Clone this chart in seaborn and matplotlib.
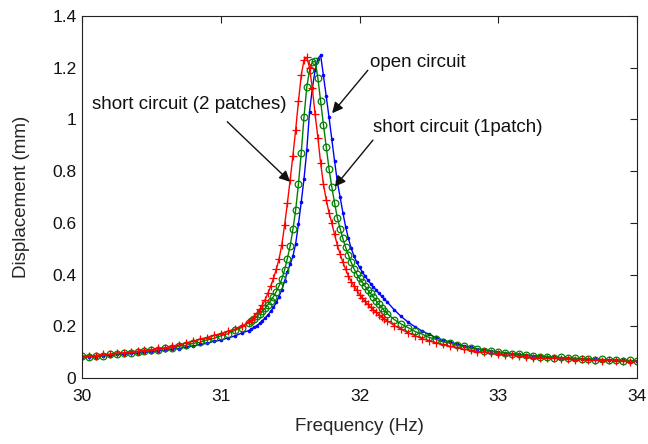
import matplotlib
matplotlib.use("Agg")
import matplotlib.pyplot as plt
import seaborn as sns
import pandas as pd

# ---- data ----
freq = [30.00, 30.05, 30.10, 30.15, 30.20, 30.25, 30.30, 30.35, 30.40, 30.45,
        30.50, 30.55, 30.60, 30.65, 30.70, 30.75, 30.80, 30.85, 30.90, 30.95,
        31.00, 31.05, 31.10, 31.15,
        31.20, 31.22, 31.24, 31.26, 31.28, 31.30, 31.32, 31.34, 31.36, 31.38,
        31.40, 31.42, 31.44, 31.46, 31.48, 31.50, 31.52, 31.54, 31.56, 31.58,
        31.60, 31.62, 31.64, 31.66, 31.68, 31.70, 31.72, 31.74, 31.76, 31.78,
        31.80, 31.82, 31.84, 31.86, 31.88, 31.90, 31.92, 31.94, 31.96, 31.98,
        32.00, 32.02, 32.04, 32.06, 32.08, 32.10, 32.12, 32.14, 32.16, 32.18,
        32.20,
        32.25, 32.30, 32.35, 32.40, 32.45, 32.50, 32.55, 32.60, 32.65, 32.70,
        32.75, 32.80, 32.85, 32.90, 32.95, 33.00, 33.05, 33.10, 33.15, 33.20,
        33.25, 33.30, 33.35, 33.40, 33.45, 33.50, 33.55, 33.60, 33.65, 33.70,
        33.75, 33.80, 33.85, 33.90, 33.95, 34.00]

disp_open = [0.080, 0.082, 0.082, 0.086, 0.086, 0.091, 0.091, 0.095, 0.096, 0.100,
             0.101, 0.106, 0.107, 0.112, 0.114, 0.120, 0.123, 0.130, 0.134, 0.142,
             0.146, 0.155, 0.162, 0.174,
             0.183, 0.190, 0.196, 0.203, 0.211, 0.222, 0.232, 0.244, 0.258, 0.273,
             0.292, 0.315, 0.342, 0.374, 0.410, 0.440, 0.470, 0.520, 0.595, 0.680,
             0.770, 0.880, 1.030, 1.120, 1.190, 1.235, 1.248, 1.170, 1.090, 1.010,
             0.925, 0.840, 0.760, 0.700, 0.640, 0.585, 0.540, 0.502, 0.472, 0.448,
             0.428, 0.410, 0.394, 0.379, 0.365, 0.352, 0.340, 0.328, 0.316, 0.305,
             0.294,
             0.264, 0.238, 0.216, 0.198, 0.182, 0.169, 0.157, 0.147, 0.139, 0.131,
             0.125, 0.119, 0.113, 0.108, 0.104, 0.100, 0.097, 0.094, 0.091, 0.088,
             0.086, 0.084, 0.082, 0.080, 0.078, 0.077, 0.075, 0.074, 0.073, 0.072,
             0.071, 0.070, 0.069, 0.068, 0.067, 0.066]

disp_1patch = [0.086, 0.082, 0.085, 0.086, 0.091, 0.092, 0.096, 0.097, 0.102, 0.103,
               0.108, 0.109, 0.115, 0.117, 0.123, 0.126, 0.134, 0.138, 0.147, 0.153,
               0.163, 0.171, 0.184, 0.195,
               0.214, 0.221, 0.229, 0.238, 0.247, 0.258, 0.270, 0.284, 0.298, 0.315,
               0.334, 0.356, 0.382, 0.418, 0.462, 0.510, 0.575, 0.650, 0.750, 0.870,
               1.010, 1.125, 1.190, 1.222, 1.225, 1.160, 1.070, 0.980, 0.895, 0.810,
               0.740, 0.678, 0.620, 0.578, 0.540, 0.505, 0.476, 0.447, 0.423, 0.402,
               0.385, 0.370, 0.355, 0.340, 0.327, 0.314, 0.298, 0.285, 0.272, 0.260,
               0.249,
               0.226, 0.209, 0.195, 0.180, 0.170, 0.157, 0.150, 0.140, 0.135, 0.126,
               0.122, 0.115, 0.112, 0.106, 0.104, 0.099, 0.098, 0.093, 0.092, 0.088,
               0.087, 0.083, 0.083, 0.079, 0.080, 0.076, 0.077, 0.074, 0.074, 0.071,
               0.072, 0.069, 0.070, 0.067, 0.068, 0.066]

disp_2patch = [0.083, 0.086, 0.087, 0.091, 0.092, 0.097, 0.097, 0.102, 0.103, 0.108,
               0.109, 0.115, 0.117, 0.124, 0.128, 0.136, 0.142, 0.151, 0.156, 0.165,
               0.171, 0.181, 0.188, 0.200,
               0.215, 0.225, 0.237, 0.250, 0.265, 0.283, 0.303, 0.328, 0.355, 0.385,
               0.420, 0.460, 0.515, 0.590, 0.675, 0.765, 0.860, 0.960, 1.070, 1.170,
               1.230, 1.240, 1.200, 1.120, 1.020, 0.930, 0.830, 0.750, 0.690, 0.640,
               0.600, 0.555, 0.515, 0.480, 0.448, 0.420, 0.395, 0.373, 0.356, 0.340,
               0.322, 0.309, 0.296, 0.285, 0.274, 0.264, 0.254, 0.245, 0.236, 0.228,
               0.221,
               0.203, 0.189, 0.174, 0.164, 0.152, 0.145, 0.135, 0.130, 0.122, 0.118,
               0.111, 0.108, 0.102, 0.100, 0.095, 0.094, 0.089, 0.088, 0.084, 0.083,
               0.079, 0.079, 0.076, 0.076, 0.073, 0.074, 0.071, 0.072, 0.069, 0.070,
               0.067, 0.068, 0.065, 0.066, 0.063, 0.064]

x_ticks = [30, 31, 32, 33, 34]
y_ticks = [0, 0.2, 0.4, 0.6, 0.8, 1.0, 1.2, 1.4]
y_tick_labels = ["0", "0.2", "0.4", "0.6", "0.8", "1", "1.2", "1.4"]

# annotations: (text, text position, arrow start, arrow tip)
notes = [
    ("open circuit", (32.42, 1.222), (32.06, 1.19), (31.803, 1.024)),
    ("short circuit (2 patches)", (30.773, 1.056), (31.047, 0.991), (31.50, 0.759)),
    ("short circuit (1patch)", (32.705, 0.967), (32.097, 0.92), (31.822, 0.74)),
]

# ---- style ----
sns.set_style("white")
plt.rcParams["font.family"] = ["Liberation Sans", "DejaVu Sans"]

fig = plt.figure(figsize=(6.48, 4.44), dpi=100)
ax = fig.add_axes([82 / 648, 1 - 378 / 444, (637 - 82) / 648, (378 - 16) / 444])

df = pd.DataFrame({"freq": freq, "open": disp_open,
                   "one": disp_1patch, "two": disp_2patch})

sns.lineplot(data=df, x="freq", y="open", ax=ax, color="#0000ff", lw=1.0,
             marker=".", markersize=4, markeredgecolor="#0000ff",
             markerfacecolor="#0000ff", markeredgewidth=0.6,
             sort=False, estimator=None)
sns.lineplot(data=df, x="freq", y="one", ax=ax, color="#008000", lw=1.0,
             marker="o", markersize=4.8, markeredgecolor="#008000",
             markerfacecolor="none", markeredgewidth=0.9,
             sort=False, estimator=None)
sns.lineplot(data=df, x="freq", y="two", ax=ax, color="#ff0000", lw=1.0,
             marker="+", markersize=5.5, markeredgecolor="#ff0000",
             markeredgewidth=0.9, sort=False, estimator=None)

ax.set_xlim(30, 34)
ax.set_ylim(0, 1.4)
ax.set_xticks(x_ticks)
ax.set_xticklabels([str(t) for t in x_ticks])
ax.set_yticks(y_ticks)
ax.set_yticklabels(y_tick_labels)
ax.tick_params(direction="in", top=True, right=True, length=5, width=0.8,
               labelsize=12.5, colors="#222222", labelcolor="#111111")
ax.tick_params(axis="x", pad=8)
ax.tick_params(axis="y", pad=4)
for s in ax.spines.values():
    s.set_color("#222222")
    s.set_linewidth(0.8)

ax.set_xlabel("Frequency (Hz)", fontsize=13.5, labelpad=10)
ax.set_ylabel("Displacement (mm)", fontsize=13.5, labelpad=16)

for text, tpos, start, tip in notes:
    ax.text(tpos[0], tpos[1], text, fontsize=13.5, ha="center", va="center",
            color="#111111")
    ax.annotate("", xy=tip, xytext=start,
                arrowprops=dict(arrowstyle="-|>", color="#111111", lw=1.0,
                                mutation_scale=16, shrinkA=0, shrinkB=0))

fig.savefig("out.png", dpi=100)
